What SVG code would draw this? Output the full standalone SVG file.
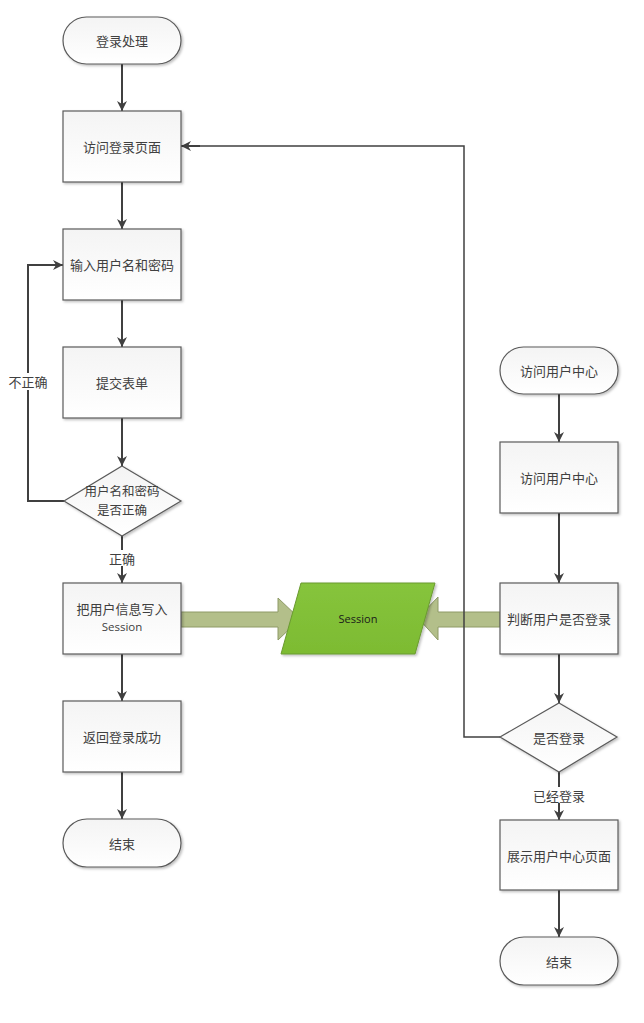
<svg xmlns="http://www.w3.org/2000/svg" width="644" height="1023" viewBox="0 0 644 1023">
<defs>
<linearGradient id="g" x1="0" y1="0" x2="0" y2="1"><stop offset="0" stop-color="#f4f4f4"/><stop offset="1" stop-color="#ffffff"/></linearGradient>
<linearGradient id="gs" x1="0" y1="0" x2="0" y2="1"><stop offset="0" stop-color="#86c43c"/><stop offset="1" stop-color="#7dbb32"/></linearGradient>
<marker id="ah" viewBox="0 0 10 10" refX="10" refY="5" markerWidth="10" markerHeight="10" markerUnits="userSpaceOnUse" orient="auto"><path d="M0,0 L10,5 L0,10 L3,5 Z" fill="#404040"/></marker>
<filter id="sh" x="-10%" y="-10%" width="130%" height="130%"><feDropShadow dx="1.5" dy="1.5" stdDeviation="1" flood-color="#000" flood-opacity="0.25"/></filter>
</defs>
<style>
.n{fill:url(#g);stroke:#5a5a5a;stroke-width:1.2;filter:url(#sh)}
.t{font-family:"Noto Sans CJK SC","Noto Sans",sans-serif;font-size:13px;fill:#404040;text-anchor:middle;dominant-baseline:central}
.e{fill:none;stroke:#404040;stroke-width:2;marker-end:url(#ah)}
.ln{fill:none;stroke:#404040;stroke-width:1.5}
.big{fill:#b3bf8a;stroke:#8e9a66;stroke-width:1}
.lb{fill:#ffffff}
</style>
<g id="connectors">
<line class="e" x1="122" y1="64" x2="122" y2="111"/>
<line class="e" x1="122" y1="182" x2="122" y2="229"/>
<line class="e" x1="122" y1="300" x2="122" y2="347"/>
<line class="e" x1="122" y1="418" x2="122" y2="466"/>
<polyline class="e" points="64,501 28,501 28,265 63,265"/>
<line class="e" x1="122" y1="536" x2="122" y2="583"/>
<line class="e" x1="122" y1="654" x2="122" y2="701"/>
<line class="e" x1="122" y1="772" x2="122" y2="819"/>
<line class="e" x1="559" y1="394" x2="559" y2="442"/>
<line class="e" x1="559" y1="513" x2="559" y2="583"/>
<line class="e" x1="559" y1="654" x2="559" y2="703"/>
<line class="e" x1="559" y1="772" x2="559" y2="820"/>
<line class="e" x1="559" y1="890" x2="559" y2="937"/>
<path class="big" d="M181,612 L278,612 L278,598 L300,619 L278,640 L278,627 L181,627 Z"/>
<path class="big" d="M500,612 L438,612 L438,597 L418,618 L438,640 L438,627 L500,627 Z"/>
<polyline class="ln" points="500,737 464,737 464,146 195,146"/>
<line class="e" x1="200" y1="146" x2="181" y2="146"/>
<rect class="lb" x="8" y="373" width="40" height="17"/>
<text class="t" x="28" y="381">不正确</text>
<rect class="lb" x="104" y="550" width="36" height="16"/>
<text class="t" x="122" y="558">正确</text>
<rect class="lb" x="530" y="787" width="58" height="16"/>
<text class="t" x="559" y="795">已经登录</text>
</g>
<g id="start1"><rect class="n" x="63" y="17" width="118" height="47" rx="23.5"/><text class="t" x="122" y="40.5">登录处理</text></g>
<g id="visitLogin"><rect class="n" x="63" y="111" width="118" height="71"/><text class="t" x="122" y="146.5">访问登录页面</text></g>
<g id="input"><rect class="n" x="63" y="229" width="118" height="71"/><text class="t" x="122" y="264.5">输入用户名和密码</text></g>
<g id="submit"><rect class="n" x="63" y="347" width="118" height="71"/><text class="t" x="122" y="382.5">提交表单</text></g>
<g id="check"><polygon class="n" points="122,466 181,501 122,536 64,501"/><text class="t" x="122" y="490.5" style="font-size:12.5px">用户名和密码</text><text class="t" x="122" y="509.5" style="font-size:12.5px">是否正确</text></g>
<g id="write"><rect class="n" x="63" y="583" width="118" height="71"/><text class="t" x="122" y="608">把用户信息写入</text><text class="t" x="122" y="626" style="font-family:'Open Sans','DejaVu Sans',sans-serif;font-size:11.5px">Session</text></g>
<g id="success"><rect class="n" x="63" y="701" width="118" height="71"/><text class="t" x="122" y="736.5">返回登录成功</text></g>
<g id="end1"><rect class="n" x="63" y="819" width="118" height="48" rx="24"/><text class="t" x="122" y="843">结束</text></g>
<g id="session"><polygon points="301,583 435,583 415,654 281,654" fill="url(#gs)" stroke="#6a9a30" stroke-width="1" filter="url(#sh)"/><text class="t" x="358" y="618.5" style="font-family:'Open Sans','DejaVu Sans',sans-serif;font-size:11px;fill:#1a1a1a">Session</text></g>
<g id="start2"><rect class="n" x="500" y="347" width="118" height="47" rx="23.5"/><text class="t" x="559" y="370.5">访问用户中心</text></g>
<g id="visitCenter"><rect class="n" x="500" y="442" width="118" height="71"/><text class="t" x="559" y="477.5">访问用户中心</text></g>
<g id="judge"><rect class="n" x="500" y="583" width="118" height="71"/><text class="t" x="559" y="618.5">判断用户是否登录</text></g>
<g id="isLogin"><polygon class="n" points="559,703 617,737 559,772 500,737"/><text class="t" x="559" y="737.5">是否登录</text></g>
<g id="show"><rect class="n" x="500" y="820" width="118" height="70"/><text class="t" x="559" y="855.5">展示用户中心页面</text></g>
<g id="end2"><rect class="n" x="500" y="937" width="118" height="48" rx="24"/><text class="t" x="559" y="961">结束</text></g>
</svg>
